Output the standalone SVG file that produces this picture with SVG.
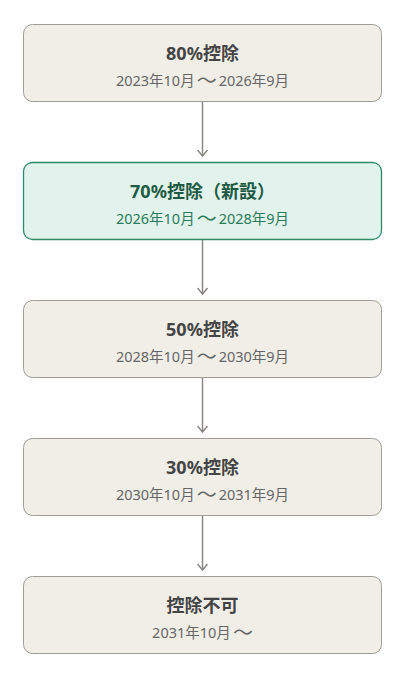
<svg xmlns="http://www.w3.org/2000/svg" width="404" height="673" viewBox="0 0 404 673">
<style>
.box{fill:#f1eee8;stroke:#a09d98;stroke-width:1}
.boxg{fill:#e1f3ec;stroke:#2f8a68;stroke-width:1.3}
.t{font-family:"Noto Sans","Noto Sans CJK JP",sans-serif;font-size:18px;font-weight:bold;fill:#444;text-anchor:middle}
.s{font-family:"Noto Sans","Noto Sans CJK JP",sans-serif;font-size:14.5px;fill:#666;text-anchor:middle}
.w{font-size:20px}
.tg{fill:#1d5a44}
.sg{fill:#2a7b5b}
.c{stroke:#8a8885;stroke-width:1.5;fill:none}
</style>
<defs>
<marker id="ah" markerWidth="12" markerHeight="12" refX="10" refY="6" orient="auto" markerUnits="userSpaceOnUse" viewBox="0 0 12 12">
<path d="M4,1 L10,6 L4,11" fill="none" stroke="#8a8885" stroke-width="1.5"/>
</marker>
</defs>
<g id="connectors">
<line class="c" x1="202.5" y1="101" x2="202.5" y2="156" marker-end="url(#ah)"/>
<line class="c" x1="202.5" y1="239" x2="202.5" y2="294" marker-end="url(#ah)"/>
<line class="c" x1="202.5" y1="377" x2="202.5" y2="432" marker-end="url(#ah)"/>
<line class="c" x1="202.5" y1="515" x2="202.5" y2="570" marker-end="url(#ah)"/>
</g>
<g id="n1">
<rect class="box" x="23.5" y="24.5" width="358" height="77" rx="9"/>
<text class="t" x="202.5" y="60">80%控除</text>
<text class="s" x="202.5" y="86">2023年10月<tspan class="w" dx="2" dy="1.5">～</tspan><tspan dx="2" dy="-1.5">2026年9月</tspan></text>
</g>
<g id="n2">
<rect class="boxg" x="23.5" y="162.5" width="358" height="77" rx="9"/>
<text class="t tg" x="202.5" y="198">70%控除（新設）</text>
<text class="s sg" x="202.5" y="224">2026年10月<tspan class="w" dx="2" dy="1.5">～</tspan><tspan dx="2" dy="-1.5">2028年9月</tspan></text>
</g>
<g id="n3">
<rect class="box" x="23.5" y="300.5" width="358" height="77" rx="9"/>
<text class="t" x="202.5" y="336">50%控除</text>
<text class="s" x="202.5" y="362">2028年10月<tspan class="w" dx="2" dy="1.5">～</tspan><tspan dx="2" dy="-1.5">2030年9月</tspan></text>
</g>
<g id="n4">
<rect class="box" x="23.5" y="438.5" width="358" height="77" rx="9"/>
<text class="t" x="202.5" y="474">30%控除</text>
<text class="s" x="202.5" y="500">2030年10月<tspan class="w" dx="2" dy="1.5">～</tspan><tspan dx="2" dy="-1.5">2031年9月</tspan></text>
</g>
<g id="n5">
<rect class="box" x="23.5" y="576.5" width="358" height="77" rx="9"/>
<text class="t" x="202.5" y="612">控除不可</text>
<text class="s" x="202.5" y="638">2031年10月<tspan class="w" dx="2" dy="1.5">～</tspan></text>
</g>
</svg>
